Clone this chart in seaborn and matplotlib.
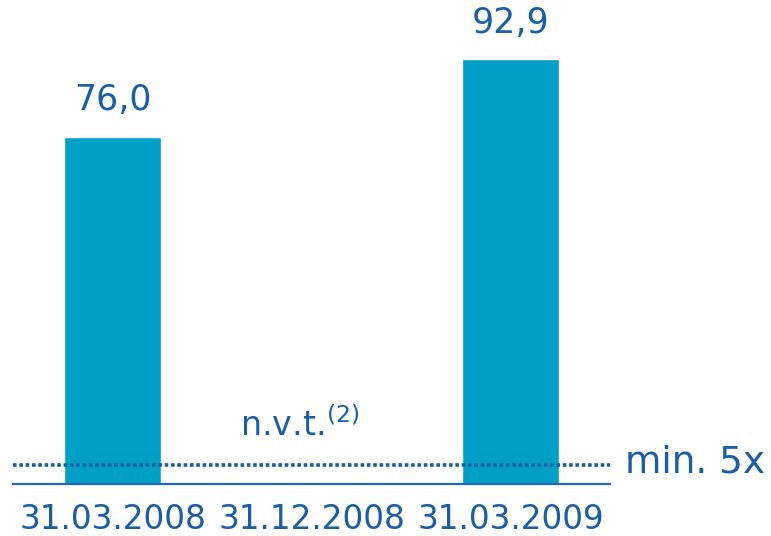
import numpy as np
import pandas as pd
import seaborn as sns
import matplotlib
matplotlib.use('Agg')
import matplotlib.pyplot as plt

# data
categories = ['31.03.2008', '31.12.2008', '31.03.2009']
values = [76.0, np.nan, 92.9]
minimum_line = 4.2  # where the dotted "min. 5x" line sits in the picture
na_label = 'n.v.t.'
na_note = '(2)'
min_label = 'min. 5x'

bar_color = '#00A0C6'
text_color = '#1B5EA6'

sns.set_theme(style='white')
plt.rcParams['font.family'] = ['DejaVu Sans']

df = pd.DataFrame({'date': categories, 'value': values})

fig = plt.figure(figsize=(7.71, 5.36), dpi=100)
ax = fig.add_axes([13 / 771, 52 / 536, 597 / 771, 457 / 536])

sns.barplot(data=df.dropna(), x='date', y='value', order=categories,
            color=bar_color, saturation=1, width=0.49, ax=ax)

ax.set_xlim(-0.5, 2.5)
ax.set_ylim(0, 100)

# value labels above bars
for i, v in enumerate(values):
    if np.isnan(v):
        ax.annotate(na_label + '$^{\\mathregular{' + na_note + '}}$', xy=(i - 0.06, 9.0),
                    ha='center', va='bottom', fontsize=24, color=text_color)
    else:
        ax.annotate(f'{v:.1f}'.replace('.', ','), xy=(i, v), xytext=(0, 14),
                    textcoords='offset points', ha='center', va='bottom',
                    fontsize=25, color=text_color)

# minimum covenant line
ax.axhline(minimum_line, color=text_color, lw=2.6, linestyle=(0, (1, 0.75)),
           xmin=0, xmax=1, zorder=3)
ax.annotate(min_label, xy=(1, minimum_line), xycoords=('axes fraction', 'data'),
            xytext=(11, 2), textcoords='offset points', ha='left',
            va='center', fontsize=27, color=text_color, annotation_clip=False)

for s in ['top', 'right', 'left']:
    ax.spines[s].set_visible(False)
ax.spines['bottom'].set_color('#1F6BB0')
ax.spines['bottom'].set_linewidth(1.6)

ax.set_yticks([])
ax.set_xlabel('')
ax.set_ylabel('')
ax.tick_params(axis='x', length=0, pad=14, labelsize=23.5, labelcolor=text_color)

fig.savefig('out.png', dpi=100)
